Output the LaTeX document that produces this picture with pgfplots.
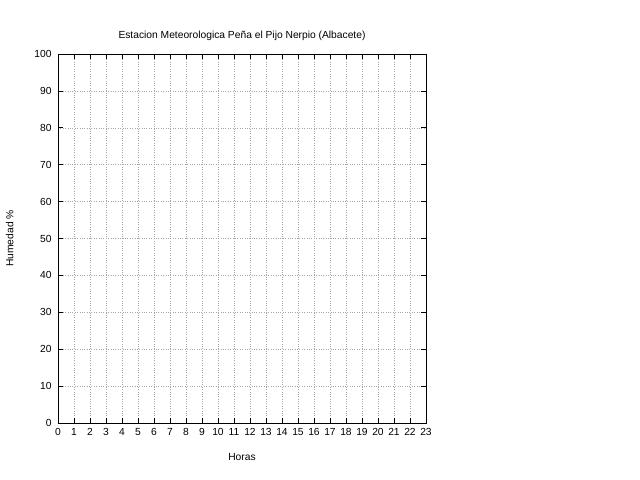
\documentclass[border=0pt]{standalone}
\usepackage{pgfplots}
\pgfplotsset{compat=1.18}
\usepackage{fontspec}
\setmainfont{Liberation Sans}
\begin{document}
\begin{tikzpicture}
\useasboundingbox (-58bp,-57bp) rectangle (582bp,423bp);
\begin{axis}[
  at={(0,0)}, anchor=south west,
  scale only axis, width=368bp, height=369bp,
  xmin=0, xmax=23, ymin=0, ymax=100,
  xtick={0,1,...,23}, ytick={0,10,...,100},
  tick align=inside,
  tick style={black, line width=0.6pt},
  major tick length=5bp,
  grid=major,
  major grid style={gray!70, dotted, line width=0.5pt},
  axis line style={black, line width=0.7pt},
  font=\fontsize{10.3}{12}\selectfont,
  /pgf/number format/assume math mode=true,
  xticklabel style={yshift=-2bp},
  yticklabel style={xshift=-3bp},
  title={Estacion Meteorologica Peña el Pijo Nerpio (Albacete)},
  title style={yshift=4bp},
  xlabel={Horas}, ylabel={Humedad \%},
  xlabel style={yshift=-11bp},
  ylabel style={yshift=14bp},
]
\end{axis}
\end{tikzpicture}
\end{document}
